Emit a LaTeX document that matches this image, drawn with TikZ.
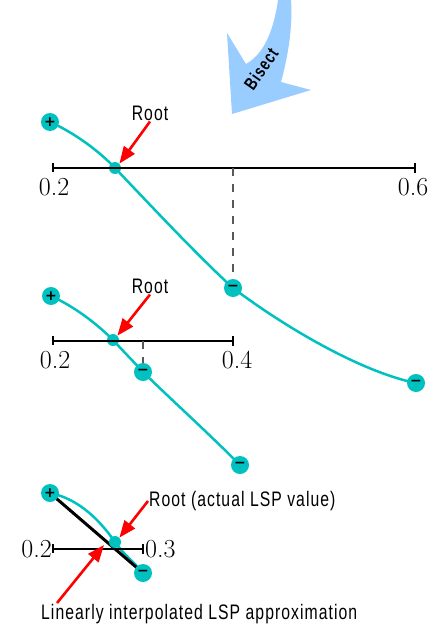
\documentclass[tikz,border=0pt]{standalone}
\usepackage{fontspec}
\newfontfamily\condfont[FakeStretch=0.75, LetterSpace=5]{Liberation Sans}
\newfontfamily\signfont{DejaVu Sans}
\usetikzlibrary{arrows.meta,backgrounds}
\definecolor{lspteal}{RGB}{0,192,192}
\definecolor{bisectblue}{RGB}{153,204,255}

\begin{document}
\begin{tikzpicture}[x=1pt, y=-1pt,
  sgn/.style={circle, fill=lspteal, minimum size=18pt, inner sep=0pt, font=\signfont\bfseries\fontsize{14}{14}\selectfont},
  rootdot/.style={circle, fill=lspteal, minimum size=12pt, inner sep=0pt},
  curve/.style={lspteal, line width=2.5pt},
  axis/.style={line width=1.5pt},
  guide/.style={gray!70!black, line width=1.2pt, dash pattern=on 8pt off 8pt},
  redarr/.style={red, line width=2.6pt, -{Triangle[length=17pt, width=13pt]}},
  lbl/.style={font=\condfont\fontsize{21}{24}\selectfont, inner sep=1pt},
  num/.style={font=\fontsize{26}{26}\selectfont, inner sep=0pt}]
\useasboundingbox (0,0) rectangle (436,626);
\fill[bisectblue] (278,0) .. controls (273,35) and (262,55) .. (246,64) -- (227,33) -- (232,114) -- (311,90) -- (281,82) .. controls (287,60) and (293,30) .. (291,0) -- cycle;
\node[font=\condfont\bfseries\fontsize{18}{18}\selectfont, rotate=55, inner sep=0pt] (bis) at (261,69) {Bisect};

% first interval
\node[sgn] (p1) at (50,122) {+};
\node[rootdot] (r1) at (115,168) {};
\node[sgn] (m1) at (233,288) {−};
\node[sgn] (e1) at (416,383) {−};
\coordinate (a1l) at (53,168); \coordinate (a1r) at (415,168);
\draw[axis] (a1l) -- (a1r);
\draw[axis] ([yshift=5pt]a1l) -- ([yshift=-4pt]a1l); \draw[axis] ([yshift=5pt]a1r) -- ([yshift=-5pt]a1r);
\node[num] (n1a) at (54,187) {0.2};
\node[num] (n1b) at (413,187) {0.6};
\draw[guide] (m1 |- a1l) -- (m1.north);
\node[lbl] (t1) at (150,113) {Root};
\draw[redarr] (t1.south) -- (r1.north east);

% second interval
\node[sgn] (p2) at (51,296) {+};
\node[rootdot] (r2) at (113,340) {};
\node[sgn] (m2) at (143,372) {−};
\node[sgn] (e2) at (240,465) {−};
\coordinate (a2l) at (53,341); \coordinate (a2r) at (233,341);
\draw[axis] (a2l) -- (a2r);
\draw[axis] ([yshift=5pt]a2l) -- ([yshift=-4pt]a2l); \draw[axis] ([yshift=5pt]a2r) -- ([yshift=-5pt]a2r);
\node[num] (n2a) at (55,360) {0.2};
\node[num] (n2b) at (237,360) {0.4};
\draw[guide] (m2 |- a2l) -- (m2.north);
\node[lbl] (t2) at (150,286) {Root};
\draw[redarr] (t2.south) -- (r2.north east);

% last interval
\node[sgn] (p3) at (50,493) {+};
\node[rootdot] (r3) at (115,542) {};
\node[sgn] (m3) at (143,573) {−};
\coordinate (a3l) at (53,549); \coordinate (a3r) at (143,549);
\draw[axis] (a3l) -- (a3r);
\draw[axis] ([yshift=5pt]a3l) -- ([yshift=-4pt]a3l); \draw[axis] ([yshift=5pt]a3r) -- ([yshift=-5pt]a3r);
\node[num, anchor=east] (n3a) at (52,549) {0.2};
\node[num, anchor=west] (n3b) at (145,549) {0.3};
\coordinate (lsp) at (104,545);
\node[lbl, anchor=west] (t3) at (148,501) {Root (actual LSP value)};
\draw[redarr] (t3.west) -- (r3.north east);
\node[lbl, anchor=west] (t4) at (40,614) {Linearly interpolated LSP approximation};
\draw[redarr] ([xshift=17pt]t4.north west) -- (lsp);

\begin{scope}[on background layer]
\draw[curve] (p1.center) .. controls (75,133) and (100,152) .. (r1.center) .. controls (155,210) and (198,256) .. (m1.center) .. controls (293,333) and (366,373) .. (e1.center);
\draw[curve] (p2.center) .. controls (73,306) and (95,322) .. (r2.center) .. controls (123,351) and (133,361) .. (m2.center) .. controls (178,406) and (205,430) .. (e2.center);
\draw[curve] (p3.center) .. controls (80,499) and (101,522) .. (r3.center) .. controls (125,556) and (133,561) .. (m3.center);
\draw[line width=3pt] (p3.center) -- (m3.center);
\end{scope}
\end{tikzpicture}
\end{document}
